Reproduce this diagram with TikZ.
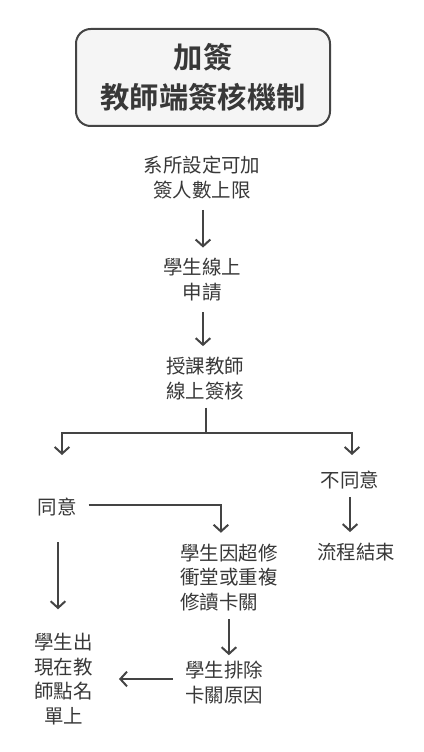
\documentclass[tikz,border=0pt]{standalone}
\usepackage{fontspec}
\setmainfont{Noto Sans CJK TC}[BoldFont={Noto Sans CJK TC Bold}]
\usepackage{xcolor}
\usetikzlibrary{arrows.meta,positioning,calc}

\definecolor{linegray}{HTML}{444444}
\definecolor{textgray}{HTML}{383838}
\definecolor{boxfill}{HTML}{F5F5F5}

\begin{document}
\begin{tikzpicture}[x=0.75pt, y=-0.75pt,
  txt/.style={inner sep=0pt, align=center, text=textgray, font=\fontsize{14.6pt}{18.6pt}\selectfont},
  flow/.style={-{Straight Barb[length=5pt,width=11pt]}, line width=1.5pt, draw=linegray, shorten <=8pt, shorten >=8pt},
  branch/.style={line width=1.5pt, draw=linegray}]
\useasboundingbox (0,0) rectangle (424,752);

\node[draw=linegray, line width=1.5pt, fill=boxfill, rounded corners=11pt,
  minimum width=190.5pt, minimum height=72.75pt, align=center, text=textgray,
  font=\bfseries\fontsize{22pt}{30pt}\selectfont] (title) at (203,77.5) {加簽\\教師端簽核機制};

\node[txt] (limit) at (202,177.5) {系所設定可加\\簽人數上限};
\node[txt] (apply) at (202,280) {學生線上\\申請};
\node[txt] (review) at (205,378.5) {授課教師\\線上簽核};
\node[txt] (agree) at (57,507) {同意};
\node[txt] (deny) at (350,480) {不同意};
\node[txt] (finish) at (356,552) {流程結束};
\node[txt, align=left, anchor=west] (blocked) at (180,577.5) {學生因超修\\衝堂或重複\\修讀卡關};
\node[txt] (clear) at (224,682.5) {學生排除\\卡關原因};
\node[txt] (roll) at (63.5,679) {學生出\\現在教\\師點名\\單上};

\coordinate (fork) at (206,433);
\coordinate (yestip) at (62,455);
\coordinate (notip) at (352,455);

\draw[flow] ($(limit.south)+(1,0)$) -- ($(limit.south |- apply.north)+(1,0)$);
\draw[flow] ($(apply.south)+(1,0)$) -- ($(apply.south |- review.north)+(1,0)$);
\draw[branch, shorten <=5.6pt] (review.south -| fork) -- (fork);
\draw[flow, shorten <=0pt, shorten >=0pt] (fork) -| (yestip);
\draw[flow, shorten <=0pt, shorten >=0pt] (fork) -| (notip);
\draw[flow, shorten <=5.6pt] (deny.south) -- (deny.south |- finish.north);
\draw[flow, shorten <=9pt] ($(agree.east)+(0,-2)$) -| ($(blocked.north)+(-8,0)$);
\draw[flow, shorten <=19.5pt, shorten >=17.5pt] ($(agree.south)+(1,0)$) -- ($(agree.south |- roll.north)+(1,0)$);
\draw[flow, shorten <=5.6pt, shorten >=4.2pt] (blocked.south) -- (blocked.south |- clear.north);
\draw[flow, shorten <=9pt, shorten >=19.5pt] ($(clear.west)+(0,-3.5)$) -- ($(clear.west -| roll.east)+(0,-3.5)$);
\end{tikzpicture}
\end{document}
